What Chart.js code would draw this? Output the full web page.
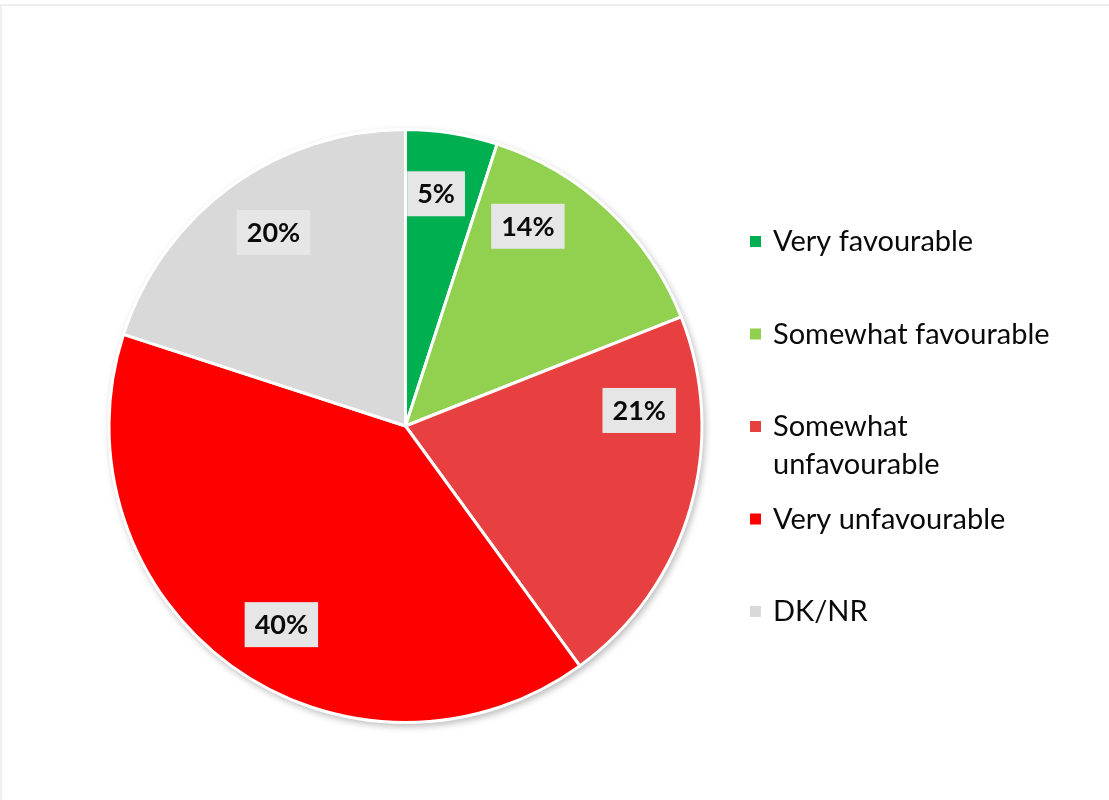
<!DOCTYPE html>
<html lang="en">
<head>
  <meta charset="UTF-8" />
  <title>Favourability</title>
  <script src="https://cdn.jsdelivr.net/npm/chart.js"></script>
  <style>
    html, body { margin: 0; padding: 0; background: #fff; }
    .frame {
      position: absolute; left: 0; top: 4px; width: 1109px; height: 796px;
      border-top: 2px solid #eeeeee; border-left: 2px solid #f0f0f0;
      box-sizing: border-box;
    }
    #pie { position: absolute; left: 0; top: 0; }
  </style>
</head>
<body>
  <div class="frame"></div>
  <canvas id="pie" width="1109" height="800"></canvas>

  <script>
    // categories (legend lines wrap like the original)
    const categories = [
      ["Very favourable"],
      ["Somewhat favourable"],
      ["Somewhat", "unfavourable"],
      ["Very unfavourable"],
      ["DK/NR"]
    ];
    // share of respondents, %
    const shares = [5, 14, 21, 40, 20];
    const sliceColors = ["#00B050", "#92D050", "#E84040", "#FF0000", "#D9D9D9"];

    // draws a soft shadow under the pie, the boxed % labels and the side legend
    const piePlugin = {
      id: "piePlugin",
      beforeDatasetsDraw(chart) {
        const arc = chart.getDatasetMeta(0).data[0];
        if (!arc) return;
        const ctx = chart.ctx;
        ctx.save();
        ctx.shadowColor = "rgba(0,0,0,0.28)";
        ctx.shadowBlur = 7;
        ctx.shadowOffsetX = 2;
        ctx.shadowOffsetY = 3;
        ctx.fillStyle = "#fff";
        ctx.beginPath();
        ctx.arc(arc.x, arc.y, arc.outerRadius + 1, 0, Math.PI * 2);
        ctx.fill();
        ctx.restore();
      },
      afterDatasetsDraw(chart, args, opts) {
        const ctx = chart.ctx;
        const meta = chart.getDatasetMeta(0);
        ctx.save();
        ctx.font = opts.labelFont;
        ctx.textAlign = "center";
        ctx.textBaseline = "middle";
        meta.data.forEach((arc, i) => {
          const mid = (arc.startAngle + arc.endAngle) / 2 + (opts.shiftDeg[i] || 0) * Math.PI / 180;
          const r = arc.outerRadius * opts.radial;
          const x = arc.x + Math.cos(mid) * r;
          const y = arc.y + Math.sin(mid) * r;
          const txt = shares[i] + "%";
          const w = ctx.measureText(txt).width + 20;
          const h = 45;
          ctx.fillStyle = "#E7E6E6";
          ctx.fillRect(x - w / 2, y - h / 2, w, h);
          ctx.fillStyle = "#0a0a0a";
          ctx.fillText(txt, x, y + 1);
        });

        // legend
        ctx.font = opts.legendFont;
        ctx.textAlign = "left";
        categories.forEach((lines, i) => {
          const y = opts.legendTop + i * opts.legendStep;
          ctx.fillStyle = sliceColors[i];
          ctx.fillRect(opts.legendX, y - 5, 11, 11);
          ctx.fillStyle = "#0a0a0a";
          lines.forEach((ln, j) => {
            ctx.fillText(ln, opts.legendX + 23, y + 1 + j * opts.legendLine);
          });
        });
        ctx.restore();
      }
    };

    new Chart(document.getElementById("pie"), {
      type: "pie",
      data: {
        labels: categories.map(c => c.join(" ")),
        datasets: [{
          data: shares,
          backgroundColor: sliceColors,
          borderColor: "#ffffff",
          borderWidth: 3
        }]
      },
      options: {
        responsive: false,
        animation: false,
        layout: { padding: { left: 107, top: 128, right: 405, bottom: 76 } },
        plugins: {
          legend: { display: false },
          tooltip: { enabled: false },
          piePlugin: {
            labelFont: "bold 27px Lato",
            radial: 0.79,
            shiftDeg: [-1.5, -11.7, -20, -4, 1.7],
            legendFont: "29px Lato",
            legendX: 750,
            legendTop: 241,
            legendStep: 92.5,
            legendLine: 38
          }
        }
      },
      plugins: [piePlugin]
    });
  </script>
</body>
</html>
